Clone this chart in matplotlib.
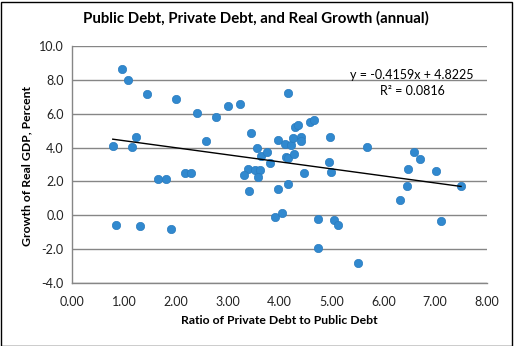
import matplotlib
matplotlib.use("Agg")
import matplotlib.pyplot as plt
from matplotlib.patches import Rectangle
import numpy as np

# Data: ratio of private debt to public debt (x) vs real GDP growth (y)
ratio = [0.97, 1.075, 1.455, 2.0, 2.40, 2.77, 1.243, 0.786, 1.152, 2.575,
         1.65, 1.81, 2.17, 2.29, 0.844, 1.32, 1.905, 3.006, 3.23, 4.16,
         3.46, 3.57, 3.64, 3.75, 3.81, 3.965, 4.10, 4.22, 4.26, 4.30,
         4.36, 4.415, 4.42, 4.58, 4.67, 4.975, 4.12, 4.17, 4.28, 4.955,
         4.99, 4.47, 3.39, 3.31, 3.53, 3.62, 3.585, 3.41, 3.97, 4.16,
         3.91, 4.05, 4.74, 5.05, 5.12, 4.74, 5.52, 5.69, 6.60, 6.71,
         6.475, 7.015, 6.46, 6.32, 7.50, 7.11]
growth = [8.66, 7.98, 7.14, 6.88, 6.07, 5.78, 4.65, 4.10, 4.06, 4.36,
          2.13, 2.13, 2.52, 2.52, -0.57, -0.63, -0.81, 6.47, 6.60, 7.25,
          4.87, 4.00, 3.51, 3.76, 3.09, 4.46, 4.22, 4.16, 4.57, 5.24,
          5.36, 4.61, 4.40, 5.52, 5.60, 4.63, 3.43, 3.37, 3.63, 3.17,
          2.54, 2.50, 2.72, 2.40, 2.68, 2.68, 2.25, 1.44, 1.56, 1.87,
          -0.08, 0.15, -0.22, -0.26, -0.57, -1.94, -2.82, 4.06, 3.75, 3.35,
          2.76, 2.64, 1.73, 0.91, 1.75, -0.32]
slope = -0.4159
intercept = 4.8225
r_squared = 0.0816
x_ticks = [0, 1, 2, 3, 4, 5, 6, 7, 8]
y_ticks = [-4, -2, 0, 2, 4, 6, 8, 10]

plt.rcParams['font.family'] = ['Lato', 'DejaVu Sans']

W, H = 514, 346
fig = plt.figure(figsize=(W / 100, H / 100), dpi=100)
ax = fig.add_axes([72 / W, 1 - 283 / H, (487 - 72) / W, (283 - 46) / H])

ax.set_xlim(0, 8)
ax.set_ylim(-4, 10)
ax.set_xticks(x_ticks)
ax.set_xticklabels([f"{v:.2f}" for v in x_ticks])
ax.set_yticks(y_ticks)
ax.set_yticklabels([f"{v:.1f}" for v in y_ticks])
ax.tick_params(length=0, labelsize=9, colors='#222222', pad=6)
ax.tick_params(axis='x', pad=9)

ax.grid(axis='y', color='#868686', linewidth=1)
ax.set_axisbelow(True)
for s in ['top', 'right']:
    ax.spines[s].set_visible(False)
for s in ['left', 'bottom']:
    ax.spines[s].set_color('#868686')
    ax.spines[s].set_linewidth(1)

ax.scatter(ratio, growth, s=36, color='#3189cf', edgecolors='#2a7cbf',
           linewidths=0.5, zorder=3)

xs = np.array([min(ratio), max(ratio)])
ax.plot(xs, slope * xs + intercept, color='black', linewidth=1, zorder=4)

ax.text(412 / W, 1 - 75 / H, f"y = {slope:.4f}x + {intercept:.4f}",
        transform=fig.transFigure, ha='center', va='center', fontsize=9)
ax.text(412 / W, 1 - 91 / H, f"R² = {r_squared:.4f}",
        transform=fig.transFigure, ha='center', va='center', fontsize=9)

fig.text(256 / W, 1 - 18 / H, "Public Debt, Private Debt, and Real Growth (annual)",
         ha='center', va='center', fontsize=10.8, fontweight='bold')
fig.text(279 / W, 1 - 321 / H, "Ratio of Private Debt to Public Debt",
         ha='center', va='center', fontsize=8.8, fontweight='bold')
fig.text(27 / W, 1 - 166 / H, "Growth of Real GDP, Percent",
         ha='center', va='center', rotation=90, fontsize=8.8, fontweight='bold')

fig.patches.append(Rectangle((0.5 / W, 0.5 / H), (W - 3) / W, (H - 2) / H,
                             transform=fig.transFigure, fill=False,
                             edgecolor='black', linewidth=1))

fig.savefig('out.png', dpi=100)
